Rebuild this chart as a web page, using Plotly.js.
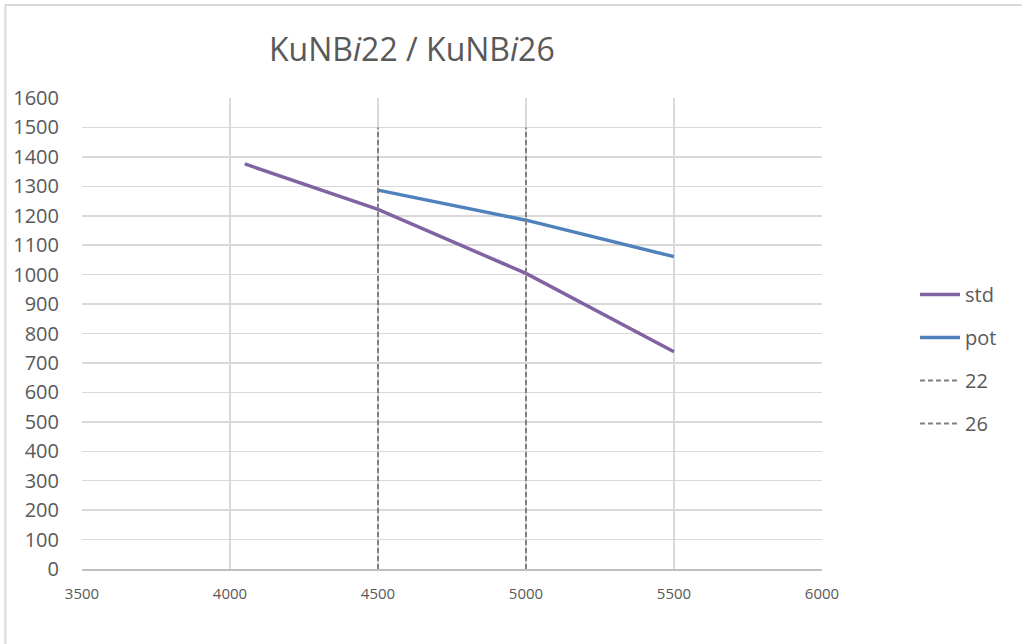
<!DOCTYPE html>
<html>
<head>
<meta charset="utf-8">
<script src="https://cdn.plot.ly/plotly-3.0.1.min.js"></script>
<style>html,body{margin:0;padding:0;background:#fff;}#chart{width:1022px;height:644px;}</style>
</head>
<body>
<div id="chart"></div>
<script>
const stdX = [4050, 4500, 5000, 5500];
const stdY = [1376, 1222, 1004, 738];
const potX = [4500, 5000, 5500];
const potY = [1287, 1185, 1061];
const line22X = [4500, 4500];
const line22Y = [0, 1500];
const line26X = [5000, 5000];
const line26Y = [0, 1500];
const xTicks = [3500, 4000, 4500, 5000, 5500, 6000];
const yTicks = [0,100,200,300,400,500,600,700,800,900,1000,1100,1200,1300,1400,1500,1600];

const font = "'Open Sans', 'DejaVu Sans', sans-serif";
const traces = [
  {x: stdX, y: stdY, name: 'std', mode: 'lines', legendgroup: 'a', line: {color: '#8064A2', width: 3.5}},
  {x: potX, y: potY, name: 'pot', mode: 'lines', legendgroup: 'b', line: {color: '#4F81BD', width: 3.5}},
  {x: line22X, y: line22Y, name: '22', mode: 'lines', legendgroup: 'c', line: {color: '#808080', width: 2, dash: '5px,3px'}},
  {x: line26X, y: line26Y, name: '26', mode: 'lines', legendgroup: 'd', line: {color: '#808080', width: 2, dash: '5px,3px'}}
];

const layout = {
  width: 1022, height: 644,
  margin: {l: 82, r: 200, t: 98, b: 75},
  paper_bgcolor: '#ffffff', plot_bgcolor: '#ffffff',
  font: {family: font, color: '#595959'},
  title: {text: 'KuNB<i>i</i>22 / KuNB<i>i</i>26', font: {size: 32, color: '#595959', family: font},
          xref: 'container', yref: 'container', x: 0.403, xanchor: 'center', y: 0.922, yanchor: 'middle'},
  xaxis: {range: [3500, 6000], tickvals: xTicks, ticktext: xTicks.map(String), showgrid: true, gridcolor: '#D9D9D9', gridwidth: 1.5,
          zeroline: false, showline: true, linecolor: '#BFBFBF', linewidth: 1.5, ticks: '', tickfont: {size: 15, color: '#595959'},
          ticklabelstandoff: 10, fixedrange: true},
  yaxis: {range: [0, 1600], tickvals: yTicks, ticktext: yTicks.map(String), showgrid: true, gridcolor: '#D9D9D9', gridwidth: 1.5,
          zeroline: false, showline: false, ticks: '', tickfont: {size: 20, color: '#595959'}, ticklabelstandoff: 22, fixedrange: true},
  showlegend: true,
  legend: {x: 1.1257, xanchor: 'left', y: 0.446, yanchor: 'middle', font: {size: 20, color: '#595959'},
           itemwidth: 40, traceorder: 'grouped', tracegroupgap: 14, bgcolor: 'rgba(0,0,0,0)'},
  shapes: [
    {type: 'line', xref: 'paper', yref: 'paper', x0: -0.1035, x1: -0.1035, y0: -0.2, y1: 1.2, line: {color: '#D9D9D9', width: 2}},
    {type: 'line', xref: 'paper', yref: 'paper', x0: -0.1035, x1: 1.4, y0: 1.1975, y1: 1.1975, line: {color: '#D9D9D9', width: 2}}
  ]
};
Plotly.newPlot('chart', traces, layout, {displayModeBar: false, staticPlot: true});
</script>
</body>
</html>
